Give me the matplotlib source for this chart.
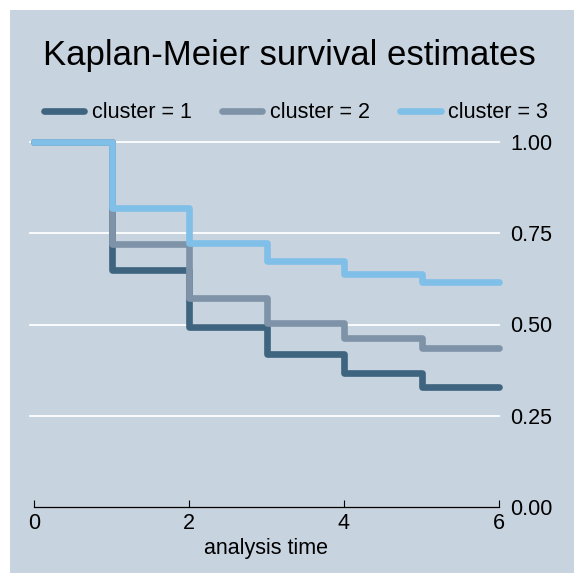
import matplotlib
matplotlib.use("Agg")
import matplotlib.pyplot as plt
from matplotlib.patches import Rectangle

plt.rcParams['font.family'] = ['Liberation Sans', 'DejaVu Sans']

times = [0, 1, 2, 3, 4, 5, 6]
cluster1 = [1.00, 0.649, 0.493, 0.419, 0.368, 0.328, 0.328]
cluster2 = [1.00, 0.720, 0.573, 0.503, 0.463, 0.436, 0.436]
cluster3 = [1.00, 0.818, 0.724, 0.675, 0.638, 0.616, 0.616]
labels = ["cluster = 1", "cluster = 2", "cluster = 3"]
colors = ["#3e6480", "#7f93a8", "#80bfe8"]
yticks = [0.0, 0.25, 0.5, 0.75, 1.0]
xticks = [0, 2, 4, 6]

W, H = 578, 579
bg = "#c7d3df"
fig = plt.figure(figsize=(W / 100, H / 100), dpi=100, facecolor="white")
fig.patches.append(Rectangle((10 / W, 6 / H), (W - 14) / W, (H - 16) / H,
                             transform=fig.transFigure, facecolor=bg,
                             edgecolor="none", zorder=-10))

ax = fig.add_axes([34 / W, 1 - 507 / H, (499 - 34) / W, (507 - 142) / H])
ax.patch.set_visible(False)
for s in ["top", "left", "right"]:
    ax.spines[s].set_visible(False)
ax.spines["bottom"].set_color("black")
ax.spines["bottom"].set_linewidth(0.9)

for yv in yticks[1:]:
    ax.plot([-0.05, 6], [yv, yv], color="white", lw=1.3, zorder=1, clip_on=False)

handles = []
for vals, c, lab in zip([cluster1, cluster2, cluster3], colors, labels):
    h, = ax.plot(times, vals, drawstyle="steps-post", color=c, lw=4.8,
                 solid_capstyle="round", solid_joinstyle="round",
                 clip_on=False, zorder=3, label=lab)
    handles.append(h)

fs = 15.5
ax.set_xlim(0, 6)
ax.set_ylim(0, 1)
ax.set_xticks(xticks)
ax.set_xticklabels([str(x) for x in xticks], fontsize=fs)
ax.set_yticks(yticks)
ax.set_yticklabels([f"{y:.2f}" for y in yticks], fontsize=fs)
ax.yaxis.tick_right()
ax.tick_params(axis="y", length=0, pad=8)
ax.tick_params(axis="x", direction="in", length=5, width=0.8, pad=4)
ax.set_xlabel("analysis time", fontsize=fs, labelpad=3)

fig.text(0.5, 1 - 55 / H, "Kaplan-Meier survival estimates", ha="center",
         va="center", fontsize=25)

leg = fig.legend(handles=handles, labels=labels, loc="center", ncol=3,
                 bbox_to_anchor=(296 / W, 1 - 113 / H), frameon=False,
                 fontsize=fs, handlelength=1.87, columnspacing=1.4,
                 handletextpad=0.37)

fig.savefig("out.png", dpi=100, facecolor="white")
